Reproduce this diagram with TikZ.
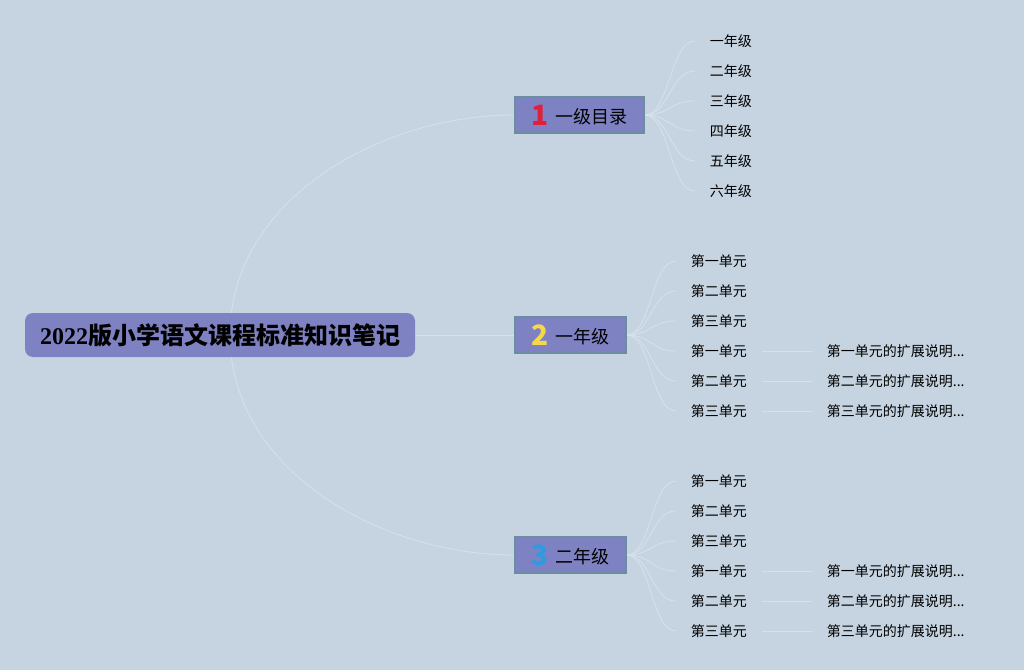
\documentclass[tikz,border=0pt]{standalone}
\usepackage{fontspec}
\setmainfont{Noto Sans CJK SC}
\newfontfamily\digitfont{Liberation Serif}
\usetikzlibrary{positioning,backgrounds}
\definecolor{bgblue}{HTML}{C6D4E1}
\definecolor{boxviolet}{HTML}{7F82C2}
\definecolor{boxedge}{HTML}{6A8E9E}
\definecolor{linkgray}{HTML}{D7E1EB}
\definecolor{numred}{HTML}{E0203A}
\definecolor{numyellow}{HTML}{F5D94A}
\definecolor{numblue}{HTML}{2C9BE2}
\tikzstyle{rootbox} = [rectangle, fill=boxviolet, rounded corners=6pt,
    minimum width=292.5pt, minimum height=33pt, text centered,
    font=\bfseries\fontsize{18}{20}\selectfont]
\tikzstyle{topic} = [rectangle, draw=boxedge, line width=0.8pt, fill=boxviolet,
    minimum height=27pt, text centered, font=\fontsize{13.5}{15}\selectfont]
\tikzstyle{leaf} = [inner xsep=11pt, inner ysep=2pt, anchor=west,
    font=\fontsize{10.5}{12}\selectfont]
\tikzstyle{link} = [draw=linkgray, line width=0.6pt]
\newcommand{\topicnum}[2]{\raisebox{-1.5pt}{\bfseries\fontsize{21}{21}\selectfont\color{#1}#2}\hspace{5pt}}
\newcommand{\extnote}[1]{#1单元的扩展说明...}

\begin{document}
\begin{tikzpicture}[x=0.75pt, y=-0.75pt]
\useasboundingbox (0,0) rectangle (1024,670);
% main nodes
\node[rootbox] (root) at (220,335) {{\digitfont 2022}版小学语文课程标准知识笔记};
\coordinate (hub) at (230,335);
\node[topic, minimum width=96.75pt] (n1) at (579.5,115) {\topicnum{numred}{1}一级目录};
\node[topic, minimum width=83.25pt] (n2) at (570.5,335) {\topicnum{numyellow}{2}一年级};
\node[topic, minimum width=83.25pt] (n3) at (570.5,555) {\topicnum{numblue}{3}二年级};
% grades under n1
\foreach \name/\txt [count=\i] in {g1/一年级, g2/二年级, g3/三年级, g4/四年级, g5/五年级, g6/六年级}
  \node[leaf] (\name) at (695,11+30*\i) {\txt};
% units under n2 and n3
\foreach \k/\top in {a/305, b/525}{
  \foreach \txt [count=\i] in {第一单元, 第二单元, 第三单元, 第一单元, 第二单元, 第三单元}
    \node[leaf] (u\k\i) at (676,\top-74+30*\i) {\txt};
  \foreach \ord [count=\i from 4] in {第一, 第二, 第三}
    \node[leaf] (e\k\i) at (812,\top-74+30*\i) {\extnote{\ord}};
}
\begin{scope}[on background layer]
\fill[bgblue] (0,0) rectangle (1024,670);
\draw[link] (hub) .. controls (230,200) and (380,115) .. (n1.west);
\draw[link] (hub) .. controls (230,470) and (380,555) .. (n3.west);
\draw[link] (root.east) -- (n2.west);
\foreach \i in {1,...,6}
  \draw[link] (n1.east) .. controls +(25,0) and +(-25,0) .. (g\i.west);
\foreach \k/\n in {a/n2, b/n3}{
  \foreach \i in {1,...,6}
    \draw[link] (\n.east) .. controls +(25,0) and +(-25,0) .. (u\k\i.west);
  \foreach \i in {4,5,6}
    \draw[link] (u\k\i.east) -- (e\k\i.west);
}
\end{scope}
\end{tikzpicture}
\end{document}
